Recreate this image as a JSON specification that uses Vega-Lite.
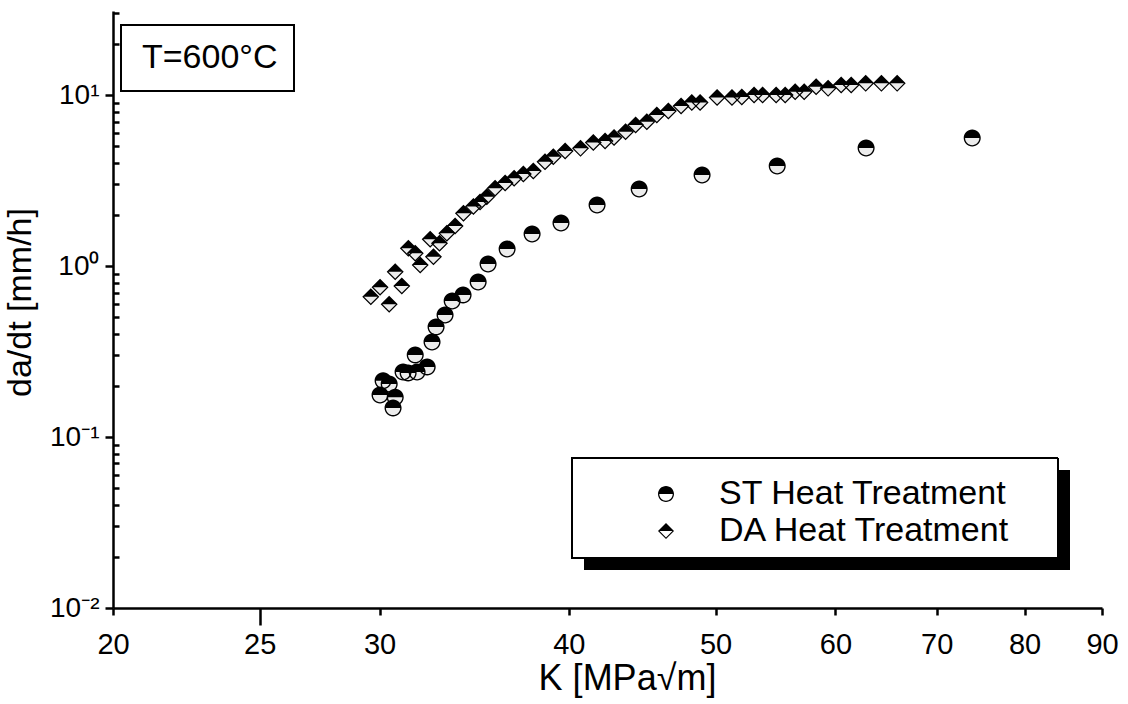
{
  "$schema": "https://vega.github.io/schema/vega-lite/v6.json",
  "autosize": {"type": "none"},
  "width": 989,
  "height": 597,
  "padding": {"left": 113, "top": 11, "right": 26, "bottom": 96},
  "background": "white",
  "config": {
    "view": {"stroke": null},
    "font": "Liberation Sans",
    "axis": {
      "domainColor": "black",
      "domainWidth": 2.5,
      "tickColor": "black",
      "tickWidth": 2.5,
      "labelColor": "black",
      "titleColor": "black",
      "labelFont": "Liberation Sans",
      "titleFont": "Liberation Sans",
      "titleFontWeight": "normal",
      "grid": false,
      "labelOverlap": false,
      "labelFlush": false
    },
    "legend": {"strokeWidth": 2, "labelFont": "Liberation Sans"}
  },
  "datasets": {
    "growth": [
      {"series": "ST Heat Treatment", "K": 30.02, "rate": 0.176},
      {"series": "ST Heat Treatment", "K": 30.16, "rate": 0.213},
      {"series": "ST Heat Treatment", "K": 30.44, "rate": 0.204},
      {"series": "ST Heat Treatment", "K": 30.72, "rate": 0.171},
      {"series": "ST Heat Treatment", "K": 30.62, "rate": 0.148},
      {"series": "ST Heat Treatment", "K": 31.09, "rate": 0.240},
      {"series": "ST Heat Treatment", "K": 31.33, "rate": 0.237},
      {"series": "ST Heat Treatment", "K": 31.76, "rate": 0.240},
      {"series": "ST Heat Treatment", "K": 32.25, "rate": 0.257},
      {"series": "ST Heat Treatment", "K": 31.67, "rate": 0.302},
      {"series": "ST Heat Treatment", "K": 32.49, "rate": 0.359},
      {"series": "ST Heat Treatment", "K": 32.69, "rate": 0.440},
      {"series": "ST Heat Treatment", "K": 33.14, "rate": 0.517},
      {"series": "ST Heat Treatment", "K": 33.50, "rate": 0.624},
      {"series": "ST Heat Treatment", "K": 34.06, "rate": 0.677},
      {"series": "ST Heat Treatment", "K": 34.85, "rate": 0.806},
      {"series": "ST Heat Treatment", "K": 35.38, "rate": 1.027},
      {"series": "ST Heat Treatment", "K": 36.42, "rate": 1.257},
      {"series": "ST Heat Treatment", "K": 37.83, "rate": 1.539},
      {"series": "ST Heat Treatment", "K": 39.53, "rate": 1.784},
      {"series": "ST Heat Treatment", "K": 41.76, "rate": 2.274},
      {"series": "ST Heat Treatment", "K": 44.52, "rate": 2.820},
      {"series": "ST Heat Treatment", "K": 48.99, "rate": 3.406},
      {"series": "ST Heat Treatment", "K": 54.92, "rate": 3.844},
      {"series": "ST Heat Treatment", "K": 62.87, "rate": 4.899},
      {"series": "ST Heat Treatment", "K": 73.88, "rate": 5.605},
      {"series": "DA Heat Treatment", "K": 29.60, "rate": 0.661},
      {"series": "DA Heat Treatment", "K": 30.02, "rate": 0.751},
      {"series": "DA Heat Treatment", "K": 30.44, "rate": 0.597},
      {"series": "DA Heat Treatment", "K": 30.72, "rate": 0.926},
      {"series": "DA Heat Treatment", "K": 31.03, "rate": 0.764},
      {"series": "DA Heat Treatment", "K": 31.34, "rate": 1.269},
      {"series": "DA Heat Treatment", "K": 31.67, "rate": 1.187},
      {"series": "DA Heat Treatment", "K": 31.91, "rate": 1.014},
      {"series": "DA Heat Treatment", "K": 32.40, "rate": 1.433},
      {"series": "DA Heat Treatment", "K": 32.56, "rate": 1.133},
      {"series": "DA Heat Treatment", "K": 32.86, "rate": 1.358},
      {"series": "DA Heat Treatment", "K": 33.23, "rate": 1.554},
      {"series": "DA Heat Treatment", "K": 33.65, "rate": 1.714},
      {"series": "DA Heat Treatment", "K": 34.08, "rate": 2.034},
      {"series": "DA Heat Treatment", "K": 34.60, "rate": 2.229},
      {"series": "DA Heat Treatment", "K": 34.95, "rate": 2.367},
      {"series": "DA Heat Treatment", "K": 35.31, "rate": 2.542},
      {"series": "DA Heat Treatment", "K": 35.76, "rate": 2.847},
      {"series": "DA Heat Treatment", "K": 36.31, "rate": 3.058},
      {"series": "DA Heat Treatment", "K": 36.81, "rate": 3.258},
      {"series": "DA Heat Treatment", "K": 37.33, "rate": 3.451},
      {"series": "DA Heat Treatment", "K": 37.90, "rate": 3.594},
      {"series": "DA Heat Treatment", "K": 38.58, "rate": 4.073},
      {"series": "DA Heat Treatment", "K": 39.07, "rate": 4.358},
      {"series": "DA Heat Treatment", "K": 39.78, "rate": 4.704},
      {"series": "DA Heat Treatment", "K": 40.72, "rate": 4.877},
      {"series": "DA Heat Treatment", "K": 41.52, "rate": 5.275},
      {"series": "DA Heat Treatment", "K": 42.27, "rate": 5.383},
      {"series": "DA Heat Treatment", "K": 42.85, "rate": 5.643},
      {"series": "DA Heat Treatment", "K": 43.61, "rate": 6.103},
      {"series": "DA Heat Treatment", "K": 44.28, "rate": 6.676},
      {"series": "DA Heat Treatment", "K": 45.04, "rate": 6.979},
      {"series": "DA Heat Treatment", "K": 45.73, "rate": 7.638},
      {"series": "DA Heat Treatment", "K": 46.54, "rate": 8.061},
      {"series": "DA Heat Treatment", "K": 47.45, "rate": 8.625},
      {"series": "DA Heat Treatment", "K": 48.23, "rate": 9.041},
      {"series": "DA Heat Treatment", "K": 48.84, "rate": 9.041},
      {"series": "DA Heat Treatment", "K": 50.12, "rate": 9.669},
      {"series": "DA Heat Treatment", "K": 51.27, "rate": 9.669},
      {"series": "DA Heat Treatment", "K": 52.04, "rate": 9.734},
      {"series": "DA Heat Treatment", "K": 53.02, "rate": 10.0},
      {"series": "DA Heat Treatment", "K": 53.71, "rate": 10.0},
      {"series": "DA Heat Treatment", "K": 54.83, "rate": 10.0},
      {"series": "DA Heat Treatment", "K": 55.59, "rate": 10.0},
      {"series": "DA Heat Treatment", "K": 56.44, "rate": 10.45},
      {"series": "DA Heat Treatment", "K": 57.22, "rate": 10.45},
      {"series": "DA Heat Treatment", "K": 58.27, "rate": 11.18},
      {"series": "DA Heat Treatment", "K": 59.34, "rate": 10.94},
      {"series": "DA Heat Treatment", "K": 60.53, "rate": 11.44},
      {"series": "DA Heat Treatment", "K": 61.46, "rate": 11.44},
      {"series": "DA Heat Treatment", "K": 62.83, "rate": 11.70},
      {"series": "DA Heat Treatment", "K": 64.35, "rate": 11.70},
      {"series": "DA Heat Treatment", "K": 65.91, "rate": 11.70}
    ],
    "note": [{"note": "T=600°C"}]
  },
  "layer": [
    {
      "data": {"name": "growth"},
      "mark": {"type": "point", "filled": true, "size": 289, "opacity": 1, "strokeWidth": 0, "color": "#ececec"},
      "encoding": {
        "x": {
          "field": "K", "type": "quantitative",
          "scale": {"type": "log", "domain": [20, 90], "nice": false},
          "axis": {
            "title": "K [MPa√m]",
            "values": [20, 25, 30, 40, 50, 60, 70, 80, 90],
            "labelFontSize": 29,
            "titleFontSize": 36,
            "tickSize": {"condition": {"test": "datum.value == 25", "value": 17}, "value": 7},
            "labelPadding": {"condition": {"test": "datum.value == 25", "value": 5}, "value": 15},
            "titlePadding": 2,
            "titleX": 514,
            "titleAlign": "center"
          }
        },
        "y": {
          "field": "rate", "type": "quantitative",
          "scale": {"type": "log", "domain": [0.01, 31], "nice": false},
          "axis": {
            "title": "da/dt [mm/h]",
            "values": [0.01, 0.02, 0.03, 0.04, 0.05, 0.06, 0.07, 0.08, 0.09, 0.1, 0.2, 0.3, 0.4, 0.5, 0.6, 0.7, 0.8, 0.9, 1, 2, 3, 4, 5, 6, 7, 8, 9, 10, 20, 30],
            "labelExpr": "datum.value == 10 ? '10¹' : datum.value == 1 ? '10⁰' : datum.value == 0.1 ? '10⁻¹' : datum.value == 0.01 ? '10⁻²' : ''",
            "labelFontSize": 28,
            "titleFontSize": 34,
            "tickSize": {"condition": {"test": "indexof([0.01, 0.1, 1, 10], datum.value) >= 0", "value": 8}, "value": -6},
            "labelPadding": 6,
            "titlePadding": 12,
            "titleY": 291,
            "titleAlign": "center"
          }
        },
        "shape": {
          "condition": {"test": "datum.series === 'DA Heat Treatment'", "value": "diamond"},
          "value": "circle"
        }
      }
    },
    {
      "data": {"name": "growth"},
      "mark": {"type": "point", "filled": true, "size": 289, "color": "black", "opacity": 1, "strokeWidth": 0},
      "encoding": {
        "x": {"field": "K", "type": "quantitative"},
        "y": {"field": "rate", "type": "quantitative"},
        "shape": {
          "field": "series", "type": "nominal", "sort": "descending",
          "scale": {"range": [
            "M-1,0A1,1,0,0,1,1,0Z M1,0A1,1,0,0,1,-1,0L-0.84,0A0.84,0.84,0,0,0,0.84,0Z",
            "M-1,0L0,-1L1,0Z M1,0L0,1L-1,0L-0.8,0L0,0.8L0.8,0Z"
          ]},
          "legend": {
            "title": null,
            "orient": "none",
            "legendX": 459,
            "legendY": 450,
            "zindex": 3,
            "padding": 16,
            "fillColor": null,
            "strokeColor": null,
            "labelFontSize": 34,
            "labelColor": "black",
            "labelLimit": 0,
            "symbolSize": 256,
            "symbolFillColor": "black",
            "symbolStrokeWidth": 0,
            "symbolOffset": 61,
            "labelOffset": 36,
            "rowPadding": 3
          }
        }
      }
    },
    {
      "data": {"name": "note"},
      "mark": {"type": "point", "opacity": 0, "filled": true},
      "encoding": {
        "fill": {
          "field": "note", "type": "nominal",
          "scale": {"range": ["transparent"]},
          "legend": {
            "title": null,
            "orient": "none",
            "legendX": 8,
            "legendY": 14,
            "zindex": 2,
            "padding": 16,
            "fillColor": "white",
            "strokeColor": "black",
            "labelFontSize": 34,
            "labelColor": "black",
            "labelLimit": 0,
            "symbolSize": 0,
            "symbolOpacity": 0,
            "symbolStrokeWidth": 0,
            "labelOffset": -29
          }
        },
        "strokeDash": {
          "field": "note", "type": "nominal",
          "scale": {"domain": ["T=600°C"], "range": [[1, 0]]},
          "legend": {
            "title": null,
            "orient": "none",
            "legendX": 458,
            "legendY": 253,
            "zindex": 2,
            "padding": 0,
            "fillColor": null,
            "strokeColor": null,
            "labelExpr": "''",
            "labelFontSize": 1,
            "labelOffset": 0,
            "symbolType": "M-1,-0.2058L1,-0.2058L1,0.2058L-1,0.2058Z",
            "symbolSize": 236196,
            "symbolFillColor": "white",
            "symbolStrokeColor": "black",
            "symbolStrokeWidth": 2,
            "symbolDash": [1, 0],
            "symbolOffset": 0
          }
        },
        "stroke": {
          "field": "note", "type": "nominal", "sort": "descending",
          "scale": {"range": ["black"]},
          "legend": {
            "title": null,
            "orient": "none",
            "legendX": 471,
            "legendY": 266,
            "zindex": 1,
            "padding": 0,
            "fillColor": null,
            "strokeColor": null,
            "labelExpr": "''",
            "labelFontSize": 1,
            "labelOffset": 0,
            "symbolType": "M-1,-0.2058L1,-0.2058L1,0.2058L-1,0.2058Z",
            "symbolSize": 236196,
            "symbolFillColor": "black",
            "symbolStrokeColor": "black",
            "symbolStrokeWidth": 0,
            "symbolOffset": 0
          }
        }
      }
    }
  ]
}
